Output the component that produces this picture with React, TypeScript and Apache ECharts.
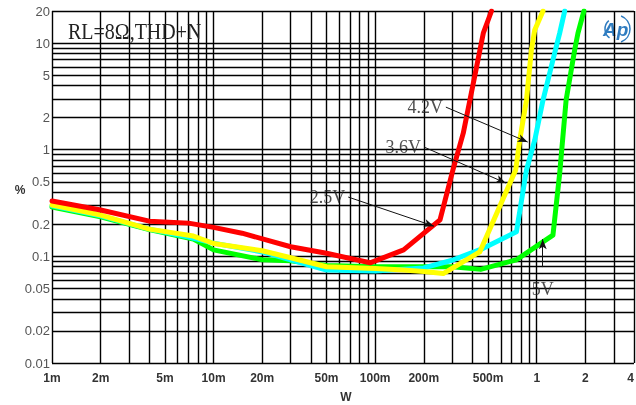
import React, { useEffect, useRef } from 'react';
import * as echarts from 'echarts';

const xTickValues = [0.001, 0.002, 0.005, 0.01, 0.02, 0.05, 0.1, 0.2, 0.5, 1, 2, 4];
const xTickLabels = ['1m', '2m', '5m', '10m', '20m', '50m', '100m', '200m', '500m', '1', '2', '4'];
const yTickValues = [0.01, 0.02, 0.05, 0.1, 0.2, 0.5, 1, 2, 5, 10, 20];
const yTickLabels = ['0.01', '0.02', '0.05', '0.1', '0.2', '0.5', '1', '2', '5', '10', '20'];

const xGridValues = [
  0.001, 0.002, 0.003, 0.004, 0.005, 0.006, 0.007, 0.008, 0.009,
  0.01, 0.02, 0.03, 0.04, 0.05, 0.06, 0.07, 0.08, 0.09,
  0.1, 0.2, 0.3, 0.4, 0.5, 0.6, 0.7, 0.8, 0.9,
  1, 2, 3, 4,
];
const yGridValues = [
  0.01, 0.02, 0.03, 0.04, 0.05, 0.06, 0.07, 0.08, 0.09,
  0.1, 0.2, 0.3, 0.4, 0.5, 0.6, 0.7, 0.8, 0.9,
  1, 2, 3, 4, 5, 6, 7, 8, 9,
  10, 20,
];

// THD+N (%) vs output power (W)
const v25 = [
  [0.001, 0.33], [0.002, 0.272], [0.004, 0.214], [0.007, 0.205], [0.01, 0.187],
  [0.015, 0.165], [0.03, 0.123], [0.05, 0.107], [0.093, 0.087], [0.15, 0.115],
  [0.252, 0.22], [0.303, 0.646], [0.351, 1.43], [0.405, 4.2], [0.467, 12.4], [0.525, 20],
];
const v42 = [
  [0.001, 0.303], [0.002, 0.244], [0.004, 0.18], [0.0075, 0.155], [0.01, 0.132],
  [0.02, 0.113], [0.03, 0.097], [0.05, 0.08], [0.1, 0.077], [0.15, 0.0745],
  [0.2, 0.072], [0.264, 0.069], [0.444, 0.11], [0.741, 0.646], [0.785, 1.23],
  [0.864, 2.92], [0.927, 8.6], [0.972, 13.3], [1.094, 20],
];
const v36 = [
  [0.001, 0.298], [0.002, 0.24], [0.004, 0.18], [0.007, 0.152], [0.01, 0.133],
  [0.02, 0.11], [0.03, 0.093], [0.05, 0.0745], [0.1, 0.073], [0.2, 0.078],
  [0.3, 0.092], [0.467, 0.119], [0.749, 0.17], [0.864, 0.646], [0.972, 1.23],
  [1.094, 2.92], [1.26, 6.94], [1.387, 12.4], [1.49, 20],
];
const v5 = [
  [0.001, 0.29], [0.002, 0.235], [0.004, 0.178], [0.0075, 0.145], [0.01, 0.115],
  [0.02, 0.093], [0.03, 0.091], [0.05, 0.082], [0.1, 0.08], [0.2, 0.08],
  [0.3, 0.08], [0.45, 0.0755], [0.75, 0.093], [1.26, 0.158], [1.387, 0.6],
  [1.52, 2.92], [1.717, 8.6], [1.8, 12.4], [1.96, 20],
];

const annLabels = [
  { name: '4.2V', start: [0.274, 2.51], end: [0.879, 1.18], pos: 'left' },
  { name: '3.6V', start: [0.2007, 1.06], end: [0.643, 0.487], pos: 'left' },
  { name: '2.5V', start: [0.0681, 0.36], end: [0.2313, 0.192], pos: 'left' },
  { name: '5V', start: [1.089, 0.0793], end: [1.089, 0.145], pos: 'bottom' },
];

const fmt = (vals: number[], labels: string[]) => (v: number) => {
  let best = 0;
  let bd = Infinity;
  vals.forEach((t, i) => {
    const d = Math.abs(Math.log(t) - Math.log(v));
    if (d < bd) { bd = d; best = i; }
  });
  return labels[best];
};

export default function App() {
  const ref = useRef<HTMLDivElement>(null);
  useEffect(() => {
    if (!ref.current) return;
    const chart = echarts.init(ref.current, undefined, { renderer: 'svg' });
    const lineSeries = (name: string, data: number[][], color: string, z: number) => ({
      name,
      type: 'line',
      data,
      z,
      showSymbol: false,
      symbol: 'none',
      clip: true,
      emphasis: { disabled: true },
      lineStyle: { color, width: 5, join: 'round', cap: 'round' },
    });
    chart.setOption({
      animation: false,
      grid: { left: 52, right: 2, top: 11, bottom: 42, outerBoundsMode: 'none', containLabel: false },
      xAxis: {
        type: 'log',
        logBase: 10,
        min: 0.001,
        max: 4,
        axisLine: { show: false },
        axisTick: { show: false },
        splitLine: { show: false },
        axisLabel: {
          customValues: xTickValues,
          formatter: fmt(xTickValues, xTickLabels),
          margin: 9,
          alignMaxLabel: 'right',
          fontFamily: 'Liberation Sans, Arial, sans-serif',
          fontSize: 12,
          fontWeight: 'bold',
          color: '#333',
        },
      },
      yAxis: {
        type: 'log',
        logBase: 10,
        min: 0.01,
        max: 20,
        axisLine: { show: false },
        axisTick: { show: false },
        splitLine: { show: false },
        axisLabel: {
          customValues: yTickValues,
          formatter: fmt(yTickValues, yTickLabels),
          margin: 2,
          fontFamily: 'Liberation Sans, Arial, sans-serif',
          fontSize: 13,
          color: '#555',
        },
      },
      graphic: [
        {
          type: 'text',
          x: 68,
          y: 19,
          scaleY: 1.2,
          z: 100,
          style: {
            text: 'RL=8Ω,THD+N',
            fontFamily: 'Liberation Serif, Times New Roman, serif',
            fontSize: 20,
            fill: '#222',
            textVerticalAlign: 'top',
            verticalAlign: 'top',
          },
        },
        {
          type: 'text',
          x: 20,
          y: 190,
          z: 100,
          style: {
            text: '%',
            fontFamily: 'Liberation Sans, Arial, sans-serif',
            fontSize: 12,
            fontWeight: 'bold',
            fill: '#333',
            textAlign: 'center',
            align: 'center',
            textVerticalAlign: 'middle',
            verticalAlign: 'middle',
          },
        },
        {
          type: 'text',
          x: 346,
          y: 397,
          z: 100,
          style: {
            text: 'W',
            fontFamily: 'Liberation Sans, Arial, sans-serif',
            fontSize: 12,
            fontWeight: 'bold',
            fill: '#333',
            textAlign: 'center',
            align: 'center',
            textVerticalAlign: 'middle',
            verticalAlign: 'middle',
          },
        },
        {
          type: 'group',
          z: 100,
          children: [
            {
              type: 'text',
              x: 603,
              y: 29,
              style: {
                text: 'Ap',
                fontFamily: 'Liberation Sans, Arial, sans-serif',
                fontSize: 19,
                fontStyle: 'italic',
                fontWeight: 'bold',
                fill: '#2f7cc0',
                textVerticalAlign: 'middle',
                verticalAlign: 'middle',
              },
            },
            {
              type: 'arc',
              shape: { cx: 616, cy: 29, r: 14, startAngle: -1.2, endAngle: 1.2 },
              style: { stroke: '#2f7cc0', lineWidth: 1.5, fill: 'none' },
            },
            {
              type: 'arc',
              shape: { cx: 616, cy: 29, r: 11, startAngle: 2.2, endAngle: 4.0 },
              style: { stroke: '#2f7cc0', lineWidth: 1.5, fill: 'none' },
            },
          ],
        },
      ],
      series: [
        {
          ...lineSeries('5V', v5, '#00ff00', 2),
          markLine: {
            z: 1,
            silent: true,
            precision: 10,
            symbol: ['none', 'none'],
            label: { show: false },
            emphasis: { disabled: true },
            lineStyle: { color: '#000', width: 1.4, type: 'solid' },
            data: [
              ...xGridValues.map((v) => ({ xAxis: v })),
              ...yGridValues.map((v) => ({ yAxis: v })),
            ],
          },
        },
        lineSeries('3.6V', v36, '#00ffff', 3),
        lineSeries('4.2V', v42, '#ffff00', 4),
        lineSeries('2.5V', v25, '#ff0000', 5),
        {
          type: 'scatter',
          z: 10,
          symbolSize: 0,
          silent: true,
          emphasis: { disabled: true },
          data: annLabels.map((a) => ({
            value: a.start,
            label: {
              show: true,
              formatter: a.name,
              position: a.pos,
              distance: a.pos === 'bottom' ? 13 : 3,
              fontFamily: 'Liberation Serif, Times New Roman, serif',
              fontSize: 18,
              color: '#222',
            },
          })),
          markLine: {
            z: 10,
            silent: true,
            precision: 10,
            symbol: ['none', 'arrow'],
            symbolSize: [6, 10],
            label: { show: false },
            emphasis: { disabled: true },
            lineStyle: { color: '#111', width: 1, type: 'solid' },
            data: annLabels.map((a) => [{ coord: a.start }, { coord: a.end }]),
          },
        },
      ],
    });
    return () => chart.dispose();
  }, []);
  return <div ref={ref} style={{ position: 'fixed', left: 0, top: 0, width: 636, height: 405 }} />;
}
